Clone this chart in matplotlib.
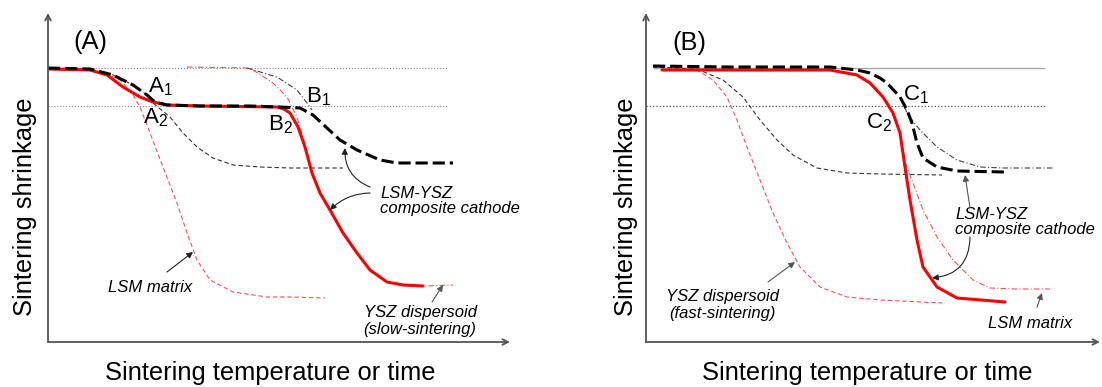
import matplotlib.pyplot as plt

plt.rcParams['font.family'] = ['Liberation Sans', 'DejaVu Sans']
plt.rcParams['mathtext.fontset'] = 'custom'
plt.rcParams['mathtext.rm'] = 'Liberation Sans'
plt.rcParams['mathtext.it'] = 'Liberation Sans:italic'

# ---- panel A : slow-sintering YSZ dispersoid (x: temperature, y: height above axis) ----
a_levels = [274, 236]
a_comp_x = [0, 42, 65, 85, 99, 107, 119, 152, 202, 232, 252, 265, 279, 292, 309, 332, 349, 405]
a_comp_y = [274, 273, 267, 257, 247, 240, 237, 236, 236, 235, 234, 227, 214, 202, 192, 182, 179, 179]
a_red_x = [0, 42, 59, 75, 92, 105, 119, 152, 229, 236, 242, 250, 257, 264, 272, 282, 295, 309, 322, 339, 355, 375]
a_red_y = [273, 272, 267, 255, 245, 240, 237, 236, 235, 233, 229, 215, 195, 169, 149, 132, 109, 89, 72, 60, 57, 56]
a_lsm_x = [0, 42, 59, 72, 84, 92, 102, 115, 129, 139, 149, 162, 185, 219, 242, 277]
a_lsm_y = [274, 273, 268, 262, 249, 235, 209, 175, 139, 109, 82, 62, 50, 45, 45, 44]
a_thin_x = [0, 42, 65, 85, 99, 105, 122, 135, 149, 165, 185, 212, 242, 295]
a_thin_y = [274, 273, 267, 257, 247, 239, 225, 209, 195, 184, 177, 175, 174, 174]
a_ysz_x = [139, 202, 225, 239, 249, 255, 260, 264, 272, 282, 295, 309, 322, 339, 355, 375, 405]
a_ysz_y = [275, 274, 259, 245, 225, 205, 182, 169, 149, 132, 109, 89, 72, 60, 57, 56, 57]
a_dd_x = [199, 229, 249, 259, 264]
a_dd_y = [274, 265, 252, 239, 232]

# ---- panel B : fast-sintering YSZ dispersoid ----
b_levels = [274, 236]
b_comp_x = [7, 84, 184, 211, 224, 234, 241, 254, 261, 266, 271, 277, 291, 311, 359]
b_comp_y = [276, 275, 275, 272, 269, 264, 259, 245, 232, 219, 199, 184, 175, 171, 170]
b_red_x = [16, 184, 211, 224, 237, 247, 254, 259, 264, 271, 277, 291, 311, 359]
b_red_y = [272, 272, 267, 259, 245, 229, 209, 175, 142, 102, 75, 55, 44, 40]
b_lsm_x = [16, 184, 211, 224, 237, 247, 254, 259, 267, 277, 291, 307, 327, 344, 371, 404]
b_lsm_y = [272, 272, 267, 259, 245, 229, 209, 180, 159, 132, 105, 82, 62, 54, 53, 53]
b_ysz_x = [7, 51, 67, 81, 91, 101, 114, 127, 141, 154, 174, 201, 234, 296]
b_ysz_y = [276, 272, 262, 245, 222, 195, 162, 129, 99, 75, 55, 45, 42, 39]
b_thin_x = [7, 51, 77, 97, 114, 131, 147, 171, 201, 234, 296]
b_thin_y = [275, 273, 262, 245, 222, 202, 187, 174, 169, 168, 167]
b_dd_x = [254, 262, 274, 291, 311, 334, 357, 407]
b_dd_y = [245, 227, 212, 195, 182, 175, 174, 174]

W, H = 1102, 387
fig = plt.figure(figsize=(W / 100, H / 100), dpi=100)
axA = fig.add_axes([48 / W, 45 / H, 462 / W, 329 / H])
axB = fig.add_axes([646 / W, 45 / H, 454 / W, 329 / H])
axA.set_xlim(0, 462)
axB.set_xlim(0, 454)

for ax in (axA, axB):
    ax.set_ylim(0, 329)
    ax.axis('off')
    ax.annotate('', xy=(1, 0), xytext=(0, 0), xycoords='axes fraction',
                arrowprops=dict(arrowstyle='->', color='#555555', lw=1.3, shrinkA=0, shrinkB=0))
    ax.annotate('', xy=(0, 1), xytext=(0, 0), xycoords='axes fraction',
                arrowprops=dict(arrowstyle='->', color='#555555', lw=1.3, shrinkA=0, shrinkB=0))

thin = 0.8
bold = 2.2
red = '#ff0000'
lred = '#ff5050'

# panel A
axA.hlines(a_levels, 0, 400, colors='#888888', linestyles=':', lw=0.8)
axA.plot(a_lsm_x, a_lsm_y, color=lred, lw=thin, dashes=(4, 2.5))
axA.plot(a_thin_x, a_thin_y, color='#333333', lw=thin, dashes=(4, 2.5))
axA.plot(a_ysz_x, a_ysz_y, color=lred, lw=thin, dashes=(5, 2, 1, 2))
axA.plot(a_dd_x, a_dd_y, color='#444444', lw=thin, dashes=(5, 2, 1, 2))
axA.plot(a_red_x, a_red_y, color=red, lw=bold, solid_capstyle='round')
axA.plot(a_comp_x, a_comp_y, color='black', lw=bold, dashes=(4, 1.6))

# panel B
axB.hlines(b_levels[0], 7, 399, colors='#aaaaaa', lw=1.0)
axB.hlines(b_levels[1], 0, 399, colors='#555555', linestyles=':', lw=0.9)
axB.plot(b_ysz_x, b_ysz_y, color=lred, lw=thin, dashes=(4, 2.5))
axB.plot(b_thin_x, b_thin_y, color='#333333', lw=thin, dashes=(4, 2.5))
axB.plot(b_lsm_x, b_lsm_y, color=lred, lw=thin, dashes=(5, 2, 1, 2))
axB.plot(b_dd_x, b_dd_y, color='#444444', lw=thin, dashes=(5, 2, 1, 2))
axB.plot(b_red_x, b_red_y, color=red, lw=bold, solid_capstyle='round')
axB.plot(b_comp_x, b_comp_y, color='black', lw=bold, dashes=(4, 1.6))

big = 18.4
lab = 16
it = 12
arrow = dict(arrowstyle='-|>', color='#222222', lw=0.8, mutation_scale=9, shrinkA=0, shrinkB=0)

# panel A texts
axA.text(42, 300, '(A)', fontsize=big, ha='center', va='center')
axA.text(112, 255, 'A$_1$', fontsize=lab, ha='center', va='center')
axA.text(107, 224, 'A$_2$', fontsize=lab, ha='center', va='center')
axA.text(270, 245, 'B$_1$', fontsize=lab, ha='center', va='center')
axA.text(232, 217, 'B$_2$', fontsize=lab, ha='center', va='center')
axA.text(102, 55, 'LSM matrix', fontsize=it, style='italic', ha='center', va='center')
axA.annotate('', xy=(145, 90), xytext=(119, 70), arrowprops=arrow)
axA.text(332, 141, 'LSM-YSZ\ncomposite cathode', fontsize=it, style='italic',
         ha='left', va='center', linespacing=1.0)
axA.annotate('', xy=(297, 194), xytext=(322, 155),
             arrowprops=dict(arrow, connectionstyle='arc3,rad=-0.35'))
axA.annotate('', xy=(282, 132), xytext=(322, 149),
             arrowprops=dict(arrow, connectionstyle='arc3,rad=0.2'))
axA.text(372, 21, 'YSZ dispersoid\n(slow-sintering)', fontsize=it, style='italic',
         ha='center', va='center', linespacing=1.1)
axA.annotate('', xy=(395, 57), xytext=(384, 40), arrowprops=dict(arrow, color='#555555'))

# panel B texts
axB.text(43, 299, '(B)', fontsize=big, ha='center', va='center')
axB.text(270, 247, 'C$_1$', fontsize=lab, ha='center', va='center')
axB.text(233, 219, 'C$_2$', fontsize=lab, ha='center', va='center')
axB.text(309, 120, 'LSM-YSZ\ncomposite cathode', fontsize=it, style='italic',
         ha='left', va='center', linespacing=1.0)
axB.annotate('', xy=(319, 167), xytext=(324, 134), arrowprops=dict(arrow, color='#555555'))
axB.annotate('', xy=(286, 64), xytext=(324, 105),
             arrowprops=dict(arrow, connectionstyle='arc3,rad=-0.45'))
axB.text(384, 18, 'LSM matrix', fontsize=it, style='italic', ha='center', va='center')
axB.annotate('', xy=(396, 49), xytext=(391, 35), arrowprops=dict(arrow, color='#555555'))
axB.text(76, 37, 'YSZ dispersoid\n(fast-sintering)', fontsize=it, style='italic',
         ha='center', va='center', linespacing=1.1)
axB.annotate('', xy=(149, 80), xytext=(122, 60), arrowprops=dict(arrow, color='#555555'))

# axis titles
for cx in (270, 867):
    fig.text(cx / W, 1 - 373 / H, 'Sintering temperature or time', fontsize=big,
             ha='center', va='center')
for cx in (25, 626):
    fig.text(cx / W, 1 - 207 / H, 'Sintering shrinkage', fontsize=big, rotation=90,
             ha='center', va='center')

fig.savefig('out.png', dpi=100)
